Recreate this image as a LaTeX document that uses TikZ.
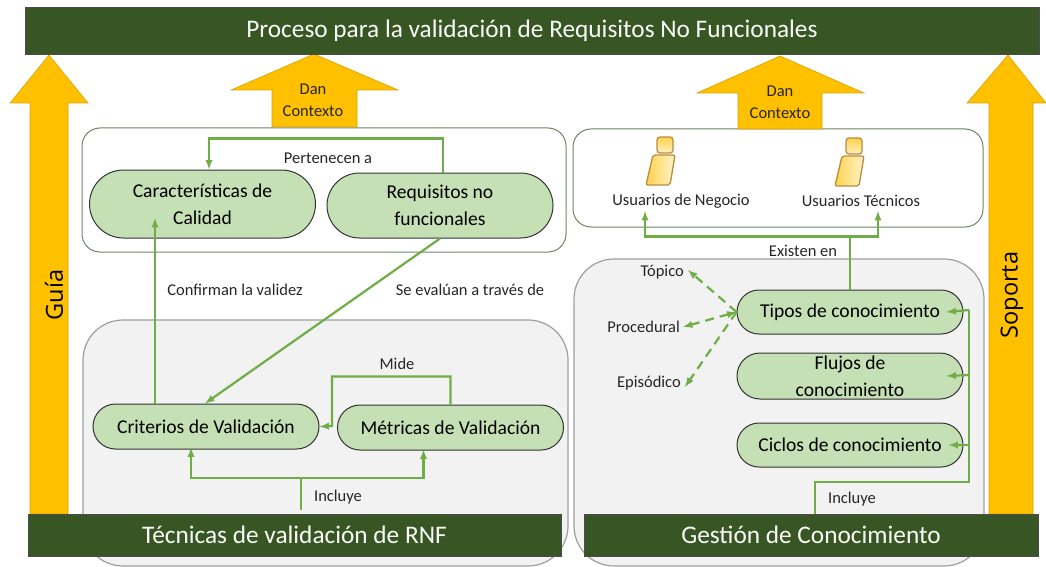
\documentclass[tikz,border=0pt]{standalone}
\usepackage{fontspec}
\setmainfont{Carlito}
\newfontfamily\rotfont{Open Sans}
\usetikzlibrary{shapes.misc}
\definecolor{barra}{HTML}{375623}
\definecolor{flecha}{HTML}{FFC000}
\definecolor{verde}{HTML}{C5E0B4}
\definecolor{linea}{HTML}{70AD47}
\definecolor{gris}{HTML}{F2F2F2}
\definecolor{borde}{HTML}{6F8468}
\definecolor{ocre}{HTML}{B98C3E}
\begin{document}
\begin{tikzpicture}[x=1pt, y=-1pt, >=latex,
    barra/.style = {draw=black!70, fill=barra, text=white!92!verde, font=\fontsize{25.3}{25}\selectfont, inner sep=0pt},
    up/.style = {fill=flecha, draw=flecha!85!black, line width=0.6pt},
    caja/.style = {draw=borde, fill=white, line width=1pt, rounded corners=18pt},
    fondo/.style = {draw=black!38, fill=gris, line width=1.2pt, rounded corners=40pt},
    main/.style = {draw=black!80, fill=verde, rounded rectangle, line width=1pt, align=center, inner sep=0pt, minimum width=226pt, font=\fontsize{19.6}{27}\selectfont},
    txt/.style = {font=\fontsize{16.5}{22}\selectfont, inner sep=0pt, align=center, text=black!85},
    rot/.style = {rotate=90, font=\rotfont\fontsize{23.5}{24}\selectfont},
    con/.style = {draw=linea, line width=2.2pt},
    punt/.style = {con, dashed, dash pattern=on 9pt off 6pt},
    persona/.pic = {
        \draw[draw=ocre, line width=1.3pt, rounded corners=3pt, top color=flecha!70, bottom color=flecha!25] (-3,-24) rectangle (13,-8);
        \draw[draw=ocre, line width=1.3pt, rounded corners=2pt, left color=flecha!70, right color=flecha!20] (-7,-6) -- (15,-6) -- (10,24) -- (-14,24) -- cycle;
    }]
    \useasboundingbox (0,0) rectangle (1046,567);

    % fondos
    \draw[fondo] (83,320) rectangle (568,566);
    \draw[fondo] (574,259) rectangle (984,566);
    \draw[caja] (82,128) rectangle (566,252);
    \draw[caja] (573,129) rectangle (983,227);

    % flechas amarillas
    \draw[up] (49,55) -- (88,103) -- (68,103) -- (68,514) -- (30,514) -- (30,103) -- (10,103) -- cycle;
    \draw[up] (1008,55) -- (1046,103) -- (1033,103) -- (1033,514) -- (989,514) -- (989,103) -- (967,103) -- cycle;
    \draw[up] (314,54) -- (398,90) -- (357,90) -- (357,127) -- (272,127) -- (272,90) -- (231,90) -- cycle;
    \draw[up] (780,56) -- (864,93) -- (822,93) -- (822,129) -- (738,129) -- (738,93) -- (697,93) -- cycle;

    \node[barra, minimum width=1014pt, minimum height=47pt] (proceso) at (532,30.5) {Proceso para la validación de Requisitos No Funcionales};
    \node[barra, minimum width=533pt, minimum height=42pt] (tecnicas) at (294.5,535) {Técnicas de validación de RNF};
    \node[barra, minimum width=454pt, minimum height=42pt] (gestion) at (811,535) {Gestión de Conocimiento};

    \node[rot] (guia) at (54,295) {Guía};
    \node[rot] (soporta) at (1012,295) {Soporta};
    \node[txt] (dan1) at (313,100) {Dan\\Contexto};
    \node[txt] (dan2) at (780,102) {Dan\\Contexto};

    % conceptos
    \node[main, minimum height=68pt] (carac) at (202.5,204) {Características de\\Calidad};
    \node[main, minimum height=65pt] (req) at (440,205.5) {Requisitos no\\funcionales};
    \node[main, minimum height=45pt] (crit) at (206,426.5) {Criterios de Validación};
    \node[main, minimum height=45pt] (metr) at (450.5,427.5) {Métricas de Validación};
    \node[main, minimum height=44pt] (tipos) at (850,312) {Tipos de conocimiento};
    \node[main, minimum height=46pt] (flujos) at (850,376) {Flujos de\\conocimiento};
    \node[main, minimum height=44pt] (ciclos) at (850,445) {Ciclos de conocimiento};

    \node[txt] (pert) at (328,158) {Pertenecen a};
    \node[txt] (conf) at (235,290) {Confirman la validez};
    \node[txt] (seev) at (470,290) {Se evalúan a través de};
    \node[txt] (mide) at (397,364) {Mide};
    \node[txt] (incl1) at (338,497) {Incluye};
    \node[txt] (incl2) at (852,499) {Incluye};
    \node[txt] (exis) at (803,251) {Existen en};
    \node[txt] (negocio) at (681,201) {Usuarios de Negocio};
    \node[txt] (tecnico) at (861,201) {Usuarios Técnicos};
    \node[txt, anchor=east] (topico) at (684,272) {Tópico};
    \node[txt, anchor=east] (proced) at (680,327) {Procedural};
    \node[txt, anchor=east] (episo) at (681,383) {Episódico};

    \pic at (660,161) {persona};
    \pic at (849,162) {persona};

    % conectores
    \coordinate (e1) at (301,510);
    \coordinate (e2) at (815,514);
    \draw[con, ->] ([xshift=3pt]req.north) -- ++(0,-34) -| ([xshift=6.5pt]carac.north);
    \draw[con, ->] ([xshift=-51pt]crit.north) -- (155,218);
    \draw[con, ->] (req.south) -- ([xshift=-1pt]crit.north);
    \draw[con, ->] (metr.north) -- ++(0,-28) -| (332,426) -- (crit.east);
    \draw[con, ->] (e1) -- ++(0,-32) -| ([xshift=-15pt,yshift=2pt]crit.south);
    \draw[con, ->] (e1) -- ++(0,-32) -| ([xshift=-27pt,yshift=1pt]metr.south);
    \draw[con, ->] (tipos.north) -- ++(0,-53) -| (645,211);
    \draw[con, ->] (tipos.north) -- ++(0,-53) -| (878,211);
    \draw[con] (e2) -- ++(0,-32) -| (969,310);
    \draw[con, ->] (969,310) -- ([xshift=-17pt]tipos.east);
    \draw[con, ->] (969,375) -- ([xshift=-17pt]flujos.east);
    \draw[con, ->] (969,445) -- ([xshift=-15pt]ciclos.east);
    \draw[punt, ->] (tipos.west) -- (688,270);
    \draw[punt, <->] (tipos.west) -- (683,327);
    \draw[punt, ->] (tipos.west) -- (685,387);
\end{tikzpicture}
\end{document}
